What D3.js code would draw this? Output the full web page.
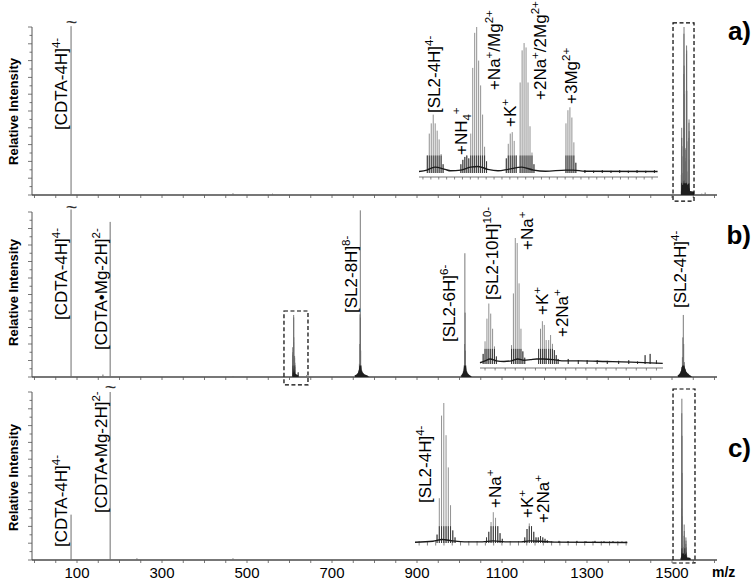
<!DOCTYPE html>
<html><head><meta charset="utf-8">
<script src="https://cdn.jsdelivr.net/npm/d3@7"></script>
<style>
body{margin:0;background:#fff}
svg{display:block}
text{font-family:"Liberation Sans",Arial,sans-serif}
</style>
</head><body>
<svg id="chart" width="754" height="584"></svg>
<script>
// ---------------- DATA ----------------
const massTickLabels = [100, 300, 500, 700, 900, 1100, 1300, 1500];

// main-spectrum single peaks  [m/z, relative intensity %]
const peaksA = [[86, 100.5], [467, 1], [560, 0.8], [1570, 0.8], [1578, 1.5]];
const peaksB = [[86, 101.5], [161, 1.5], [178, 94], [467, 0.6], [640, 1]];
const peaksC = [[86, 27], [178, 100], [241, 1], [467, 1]];

// main-spectrum isotope clusters (panel b)
const clusterB8 = [[754,1],[758,1.5],[761,2.5],[763,4],[764.5,8],[765.5,20],[766,38],[766.6,101],[767,36],[767.5,16],[768.5,7],[770,4],[773,2.5],[777,1.5],[782,1],[786,0.5]];
const clusterB6 = [[1004,1],[1007,2],[1009,3.5],[1011,7],[1012,20],[1012.6,75],[1013.2,39],[1014,16],[1015,7],[1017,3.5],[1020,2],[1024,1],[1028,0.5]];
const clusterB4 = [[1514,1],[1518,2],[1521,3.5],[1523,6],[1524.5,12],[1525.5,24],[1526.6,37.6],[1527.5,20],[1529,9],[1531,5],[1534,3],[1538,2],[1542,1],[1546,0.5]];

// inset a (zoom of the boxed [SL2-4H]4- region)  [m/z, % of inset]
const insetA = [
  [1522.05,12],[1522.3,27],[1522.55,34],[1522.8,40],[1523.05,34],[1523.3,29],[1523.55,23],[1523.8,13],[1524.05,6],
  [1526.3,6],[1526.55,9],[1526.8,11],[1527.05,12],[1527.3,10],
  [1527.55,27],[1527.8,72],[1528.05,96],[1528.3,100],[1528.55,77],[1528.8,60],[1529.05,40],[1529.3,18],[1529.55,8],
  [1532.05,10],[1532.3,20],[1532.55,27],[1532.8,28],[1533.05,22],[1533.3,12],
  [1533.8,62],[1534.05,84],[1534.3,89],[1534.55,86],[1534.8,62],[1535.05,32],[1535.3,14],[1535.55,6],
  [1539.6,34],[1539.85,43],[1540.1,45],[1540.35,38],[1540.6,21],[1540.85,7],
  [1542,2],[1543.1,1.5],[1544.2,2],[1545.3,1.5],[1546.4,2],[1547.5,1.5],[1548.6,2],[1549.7,1.5],[1550.8,2]
];
const insetABase = [[1521,1],[1522,2],[1523,4],[1524.3,2.5],[1525,1.5],[1526.3,2],[1527.5,4],[1528.5,4.5],[1529.7,2.5],[1531,1.5],[1532.3,2.5],[1534,4],[1535.5,2],[1537,1.2],[1539.6,2],[1540.5,2],[1542,1.2],[1551.2,1]];

// inset b (zoom of the boxed [SL2-10H]10- region)
const insetB = [
  [607.25,8],[607.4,18],[607.55,36],[607.7,48],[607.85,40],[608.0,28],[608.15,14],[608.3,6],
  [609.5,15],[609.65,56],[609.8,100],[609.95,96],[610.1,64],[610.25,28],[610.4,10],[610.55,5],
  [611.65,12],[611.8,28],[611.95,34],[612.1,31],[612.25,19],
  [612.45,19],[612.6,23],[612.75,16],[612.9,11],[613.05,7],[613.2,4],
  [614,4],[614.8,3],[615.5,3],[616.3,3],[617.1,2.5],[618,2.5],[618.8,3],[619.5,2],[620.1,7],[620.5,8],[621,3]
];
const insetBBase = [[607,1],[607.4,2.5],[607.8,4],[608.3,2.5],[608.9,2],[609.5,2.5],[610,4],[610.5,3],[611,3.5],[611.5,4],[612,4],[612.8,3.5],[613.5,2.5],[615,2.5],[617,2],[619,1.5],[621.5,0.5]];

// inset c (zoom of the boxed [SL2-4H]4- region)
const insetC = [
  [1522.45,6],[1522.7,32],[1522.95,91],[1523.2,100],[1523.45,77],[1523.7,54],[1523.95,27],[1524.2,9],[1524.45,4],
  [1527.95,4],[1528.2,8],[1528.45,15],[1528.7,22],[1528.95,18],[1529.2,12],[1529.45,7],[1529.7,3],
  [1532.2,4],[1532.45,10],[1532.7,14],[1532.95,12],[1533.2,8],[1533.45,4],
  [1533.7,4],[1533.95,5],[1534.2,4],[1534.45,3],[1534.7,2],
  [1536,1.5],[1537,1.2],[1538,1.5],[1539,1.2],[1540,1.5],[1541,1.2],[1542,1.3],[1543,1]
];
const insetCBase = [[1520,0.5],[1522,1.2],[1523,2.5],[1524.2,1.5],[1525.5,0.8],[1527.5,0.8],[1528.7,1.5],[1530,0.8],[1531.8,0.8],[1532.7,1.5],[1534,1.2],[1535.5,0.6],[1543.6,0.4]];

// height (main %) of each boxed cluster's tallest line
const boxedHeight = {a: 100, b: 37.6, c: 96};

// annotations: [text parts], anchor in data units
const labelsMainA = [{parts:[["[CDTA-4H]"],["4-","sup"]], mz:76.5, i:38.7}];
const labelsMainB = [
  {parts:[["[CDTA-4H]"],["4-","sup"]], mz:76.5, i:34.5},
  {parts:[["[CDTA\u2022Mg-2H]"],["2-","sup"]], mz:170.6, i:16.4},
  {parts:[["[SL2-8H]"],["8-","sup"]], mz:758.8, i:38.8},
  {parts:[["[SL2-6H]"],["6-","sup"]], mz:989.4, i:21.2},
  {parts:[["[SL2-4H]"],["4-","sup"]], mz:1533, i:41.8}
];
const labelsMainC = [
  {parts:[["[CDTA-4H]"],["4-","sup"]], mz:76.5, i:7.7},
  {parts:[["[CDTA\u2022Mg-2H]"],["2-","sup"]], mz:170.6, i:28}
];
const labelsInsetA = [
  {parts:[["[SL2-4H]"],["4-","sup"]], mz:1523.66, i:41.1},
  {parts:[["+NH"],["4","sub"],["+","sup"]], mz:1527.08, i:12.3},
  {parts:[["+Na"],["+","sup"],["/Mg"],["2+","sup"]], mz:1531.25, i:56.8},
  {parts:[["+K"],["+","sup"]], mz:1533.28, i:31.5},
  {parts:[["+2Na"],["+","sup"],["/2Mg"],["2+","sup"]], mz:1537.08, i:50},
  {parts:[["+3Mg"],["2+","sup"]], mz:1541, i:47.3}
];
const labelsInsetB = [
  {parts:[["[SL2-10H]"],["10-","sup"]], mz:608.43, i:50.8},
  {parts:[["+Na"],["+","sup"]], mz:611.21, i:90.5},
  {parts:[["+K"],["+","sup"]], mz:612.4, i:38.9},
  {parts:[["+2Na"],["+","sup"]], mz:613.98, i:21.4}
];
const labelsInsetC = [
  {parts:[["[SL2-4H]"],["4-","sup"]], mz:1521.78, i:28.6},
  {parts:[["+Na"],["+","sup"]], mz:1529.56, i:25},
  {parts:[["+K"],["+","sup"]], mz:1533.11, i:17.9},
  {parts:[["+2Na"],["+","sup"]], mz:1534.89, i:14.3}
];
const brokenPeaks = {a: 86, b: 86, c: 178};
const boxes = {a: [1502.4, 1551.8, -3.6, 102.4], b: [587, 643.5, -4.8, 40], c: [1502.4, 1554.1, -1.8, 101.8]};

// ---------------- DRAWING ----------------
const svg = d3.select("#chart");
const x = d3.scaleLinear().domain([0, 1600]).range([34.5, 714.5]);
const AX_L = 32, AX_R = 717;
const LABEL_SIZE = 17, SCRIPT_SIZE = 11.5;

const panels = [
  {key:"a", top:27, base:195, peaks:peaksA, clusters:[], inset:insetA, insetBase:insetABase, labels:labelsMainA, insetLabels:labelsInsetA,
   ins:{x0:419, x1:658, d0:1521, d1:1551.25, y0:173, y100:27, axisY:177, step:1, both:false}, ylab:111.5, tag:"a)", tagY:40},
  {key:"b", top:212, base:377, peaks:peaksB, clusters:[clusterB8, clusterB6, clusterB4], inset:insetB, insetBase:insetBBase, labels:labelsMainB, insetLabels:labelsInsetB,
   ins:{x0:480, x1:663, d0:607, d1:621.52, y0:364, y100:238, axisY:368, step:0.8, both:false}, ylab:292.5, tag:"b)", tagY:244},
  {key:"c", top:392, base:560, peaks:peaksC, clusters:[], inset:insetC, insetBase:insetCBase, labels:labelsMainC, insetLabels:labelsInsetC,
   ins:{x0:415, x1:628, d0:1520, d1:1543.67, y0:543, y100:403, axisY:543, step:0.92, both:true}, ylab:477.5, tag:"c)", tagY:457}
];

function drawLabel(g, parts, px, py) {
  const t = g.append("text")
    .attr("transform", `translate(${px},${py}) rotate(-90)`)
    .attr("font-size", LABEL_SIZE).attr("fill", "#000");
  let off = 0;
  parts.forEach(([s, type]) => {
    const target = type === "sup" ? -7 : type === "sub" ? 4 : 0;
    t.append("tspan").attr("dy", target - off).attr("font-size", type ? SCRIPT_SIZE : LABEL_SIZE).text(s);
    off = target;
  });
}

function sticks(pts, xs, ys, f) {
  return pts.map(p => `M${xs(p[0]).toFixed(2)},${ys(0)}V${ys(p[1] * f).toFixed(2)}`).join("");
}

panels.forEach(P => {
  const g = svg.append("g");
  const y = d3.scaleLinear().domain([0, 100]).range([P.base, P.top]);

  // y axis
  g.append("line").attr("x1", AX_L).attr("x2", AX_L).attr("y1", P.top).attr("y2", P.base)
    .attr("stroke", "#555").attr("stroke-width", 1);
  d3.range(0, 101, 5).forEach(v => {
    g.append("line").attr("x1", AX_L - (v % 10 === 0 ? 4 : 2.5)).attr("x2", AX_L)
      .attr("y1", y(v)).attr("y2", y(v)).attr("stroke", "#555").attr("stroke-width", 0.8);
  });
  // x axis
  g.append("line").attr("x1", AX_L).attr("x2", AX_R).attr("y1", P.base).attr("y2", P.base)
    .attr("stroke", "#4a4a4a").attr("stroke-width", 1.5);
  d3.range(0, 1601, 50).forEach(v => {
    g.append("line").attr("x1", x(v)).attr("x2", x(v)).attr("y1", P.base).attr("y2", P.base + 3)
      .attr("stroke", "#555").attr("stroke-width", 0.8);
  });

  // Relative Intensity
  g.append("text").attr("transform", `translate(17.5,${P.ylab}) rotate(-90)`)
    .attr("text-anchor", "middle").attr("font-size", 13).attr("font-weight", "bold").text("Relative Intensity");
  // panel tag
  g.append("text").attr("x", 751).attr("y", P.tagY).attr("text-anchor", "end")
    .attr("font-size", 26).attr("font-weight", "bold").text(P.tag);

  // main single peaks
  g.append("path").attr("d", sticks(P.peaks, x, y, 1)).attr("stroke", "#6e6e6e").attr("stroke-width", 1).attr("fill", "none");

  // main clusters
  const mainClusters = P.clusters.map(c => ({pts: c, f: 1}));
  mainClusters.push({pts: P.inset, f: boxedHeight[P.key] / 100});
  mainClusters.forEach(c => {
    g.append("path").attr("d", sticks(c.pts, x, y, c.f)).attr("stroke", "#6a6a6a").attr("stroke-width", 0.9).attr("fill", "none");
    const capped = c.pts.map(p => [p[0], Math.min(p[1] * c.f, 7)]);
    g.append("path").datum(capped)
      .attr("d", d3.area().x(d => x(d[0])).y0(y(0)).y1(d => y(d[1])))
      .attr("fill", "#1e1e1e");
  });
  // boxed-region baseline hump in main
  g.append("path").datum(P.insetBase.map(p => [p[0], p[1] * 2 * boxedHeight[P.key] / 100]))
    .attr("d", d3.area().x(d => x(d[0])).y0(y(0)).y1(d => y(d[1]))).attr("fill", "#1e1e1e");

  // broken-peak tilde
  g.append("text").attr("x", x(brokenPeaks[P.key]) + 0.5).attr("y", y(100) + 2).attr("text-anchor", "middle")
    .attr("font-size", 20).attr("fill", "#333").text("~");

  // dashed box
  const bx = boxes[P.key];
  g.append("rect").attr("x", x(bx[0])).attr("y", y(bx[3])).attr("width", x(bx[1]) - x(bx[0]))
    .attr("height", y(bx[2]) - y(bx[3])).attr("fill", "none").attr("stroke", "#000")
    .attr("stroke-width", 1.2).attr("stroke-dasharray", "4,2.5");

  // main labels
  P.labels.forEach(L => drawLabel(g, L.parts, x(L.mz), y(L.i)));

  // inset
  const I = P.ins;
  const xi = d3.scaleLinear().domain([I.d0, I.d1]).range([I.x0, I.x1]);
  const yi = d3.scaleLinear().domain([0, 100]).range([I.y0, I.y100]);
  if (!I.both) {
    g.append("line").attr("x1", I.x0).attr("x2", I.x1).attr("y1", I.axisY).attr("y2", I.axisY)
      .attr("stroke", "#666").attr("stroke-width", 0.9);
  }
  d3.range(I.d0 + I.step / 2, I.d1, I.step).forEach(v => {
    g.append("line").attr("x1", xi(v)).attr("x2", xi(v))
      .attr("y1", I.both ? I.axisY - 2 : I.axisY).attr("y2", I.axisY + 2.5)
      .attr("stroke", "#555").attr("stroke-width", 0.7);
  });
  g.append("path").attr("d", sticks(P.inset, xi, yi, 1)).attr("stroke", "#858585").attr("stroke-width", 0.9).attr("fill", "none");
  g.append("path").attr("d", sticks(P.inset.map(p => [p[0], Math.min(p[1], 12)]), xi, yi, 1))
    .attr("stroke", "#3a3a3a").attr("stroke-width", 1).attr("fill", "none");
  g.append("path").datum(P.insetBase)
    .attr("d", d3.line().x(d => xi(d[0])).y(d => yi(d[1])).curve(d3.curveMonotoneX))
    .attr("fill", "none").attr("stroke", "#1a1a1a").attr("stroke-width", 1.4);
  P.insetLabels.forEach(L => drawLabel(g, L.parts, xi(L.mz), yi(L.i)));

  // tick labels on bottom panel
  if (P.key === "c") {
    massTickLabels.forEach(v => {
      g.append("text").attr("x", x(v)).attr("y", 578).attr("text-anchor", "middle")
        .attr("font-size", 15).text(v);
    });
    g.append("text").attr("x", 712).attr("y", 577).attr("font-size", 14).attr("font-weight", "bold").text("m/z");
  }
});
</script>
</body></html>
